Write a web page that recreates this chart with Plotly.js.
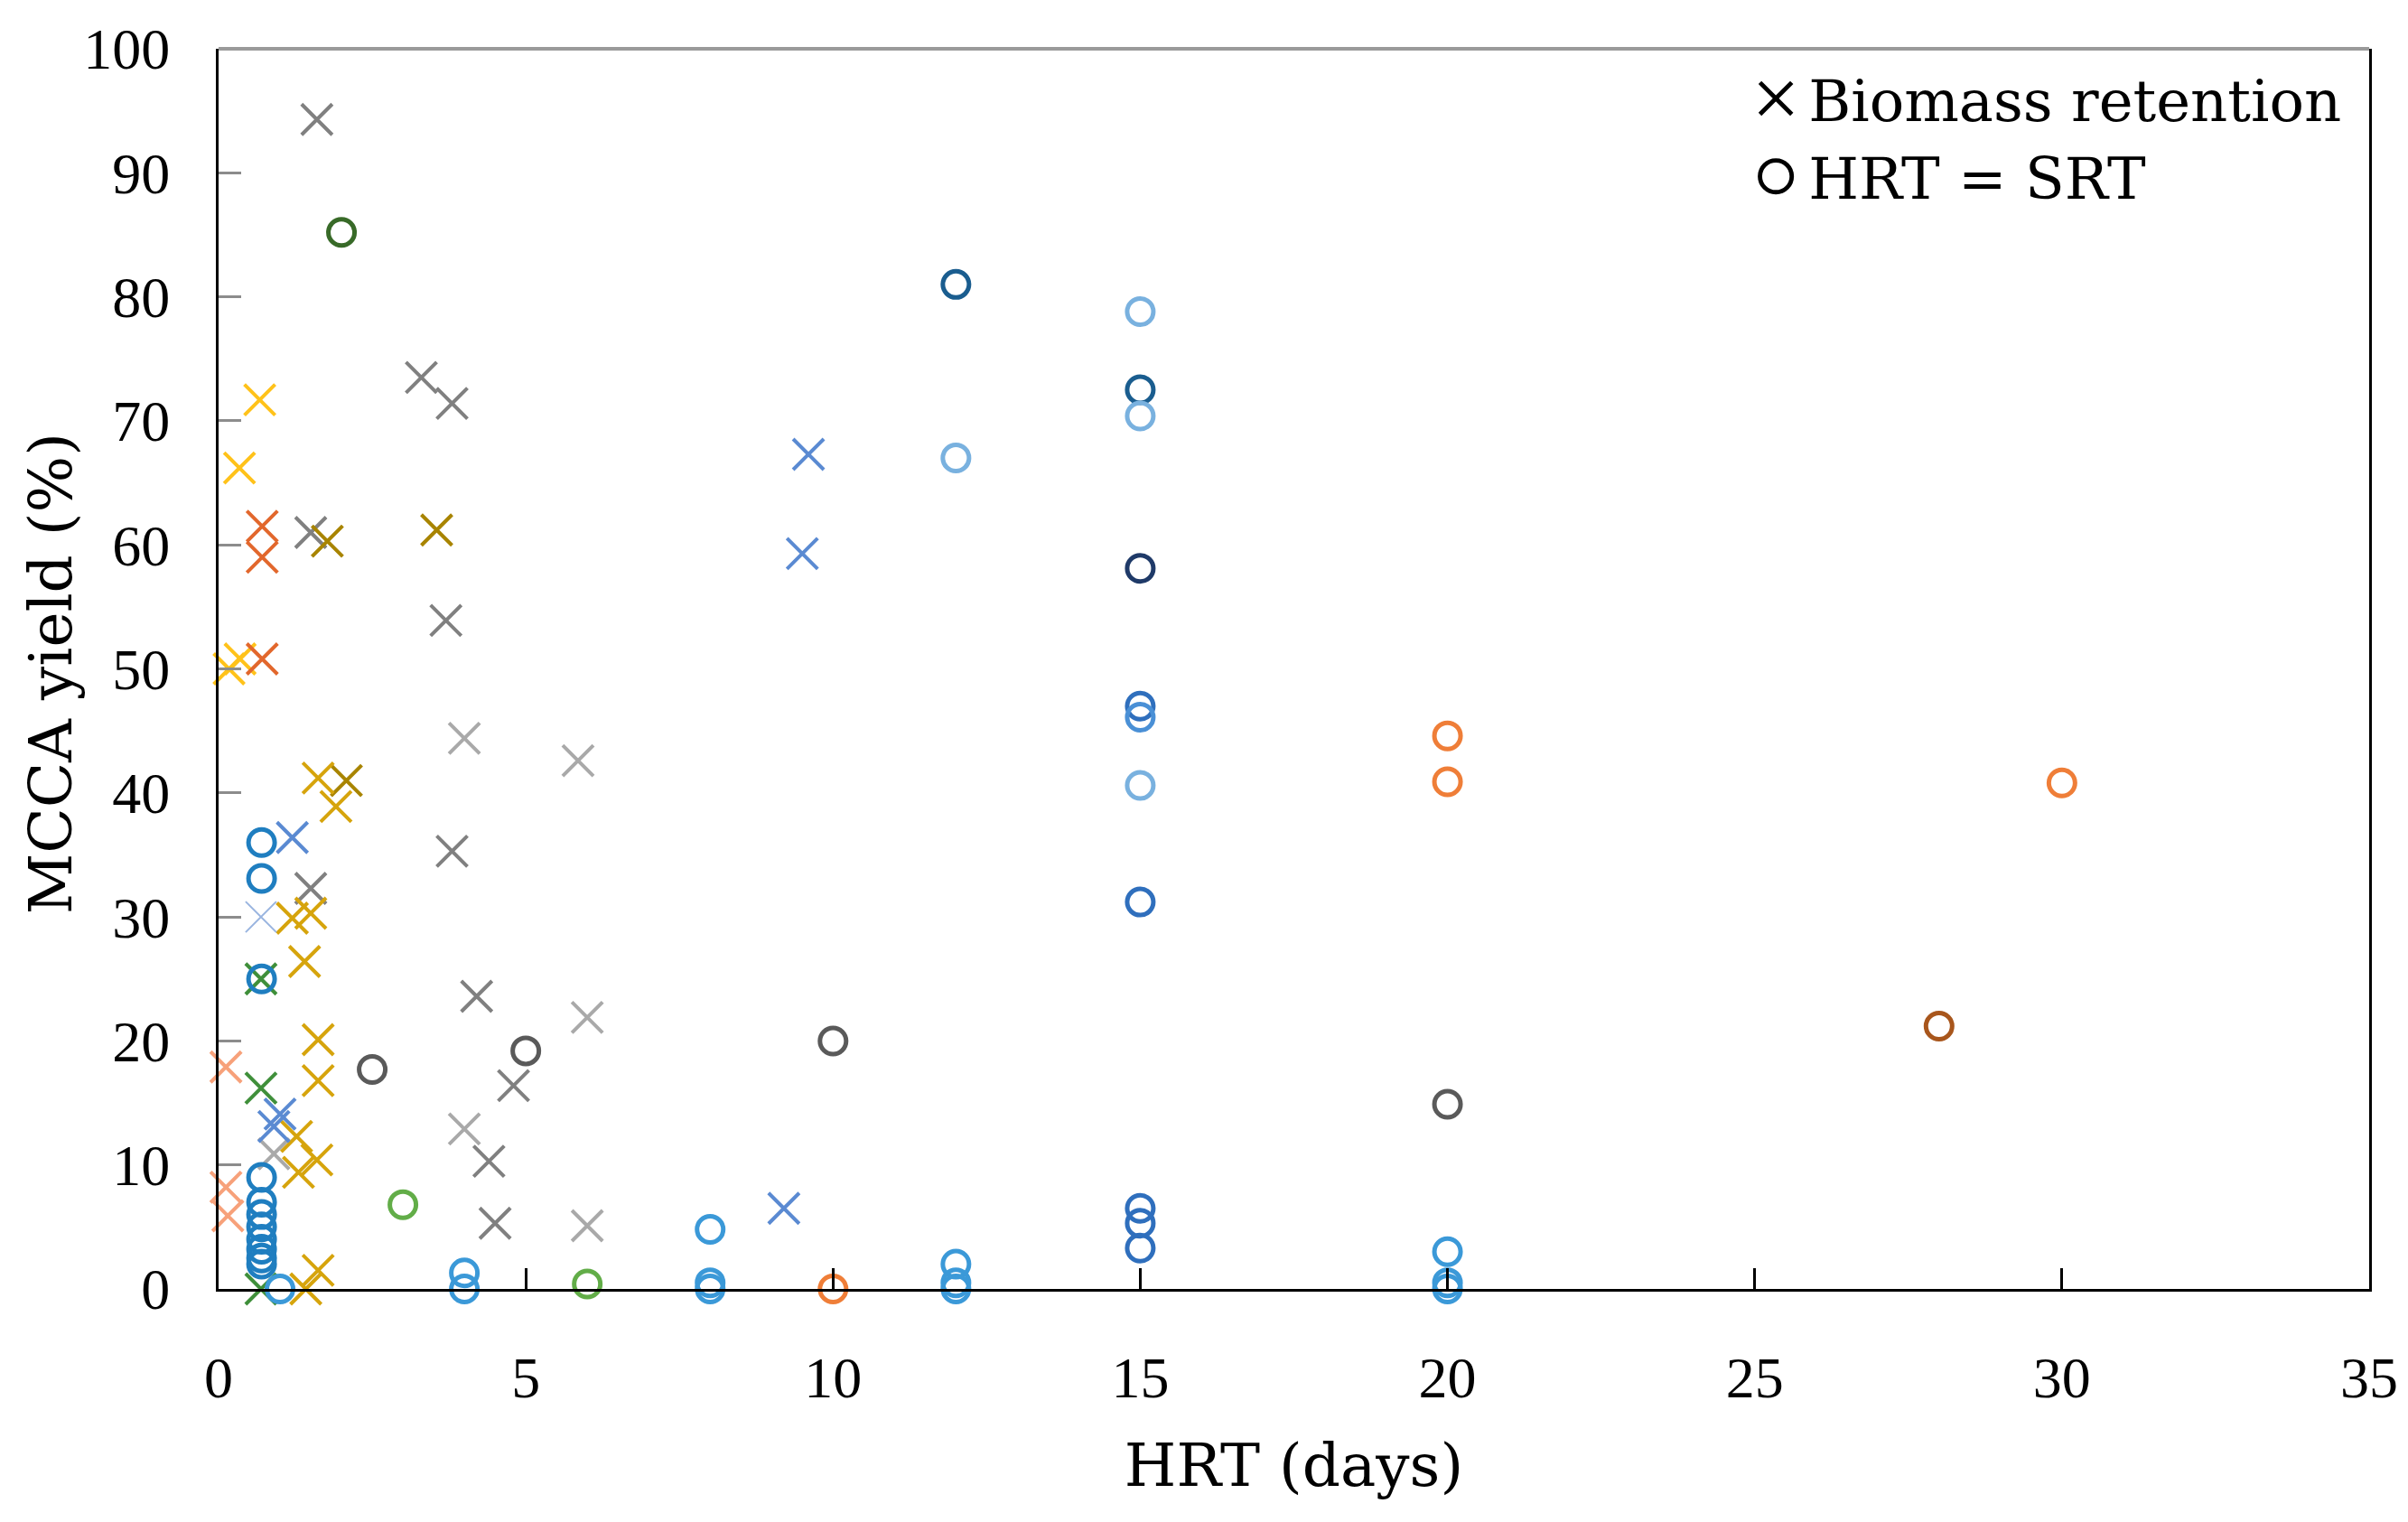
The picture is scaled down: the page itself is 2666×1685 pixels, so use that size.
<!DOCTYPE html>
<html>
<head>
<meta charset="utf-8">
<script src="https://cdn.plot.ly/plotly-3.0.1.min.js"></script>
<style>html,body{margin:0;padding:0;background:#fff;}#chart{width:2666px;height:1685px;}</style>
</head>
<body>
<div id="chart"></div>
<script>
// ---- Data (HRT in days, MCCA yield in %) ----
// Biomass retention (crosses)
const grayCrossX = [1.6, 3.3, 3.8, 1.5, 3.7, 3.8, 1.5, 4.2, 4.8, 4.4, 4.5];
const grayCrossY = [94.3, 73.5, 71.4, 61.0, 53.9, 35.3, 32.3, 23.6, 16.4, 10.3, 5.3];
const lightGrayCrossX = [4.0, 5.85, 4.0, 6.0, 6.0, 0.9];
const lightGrayCrossY = [44.4, 42.6, 12.9, 21.9, 5.1, 10.9];
const yellowCrossX = [0.67, 0.34, 0.17, 0.35];
const yellowCrossY = [71.7, 66.2, 50.0, 50.8];
const orangeCrossX = [0.71, 0.71, 0.71];
const orangeCrossY = [61.5, 59.0, 50.8];
const salmonCrossX = [0.12, 0.12, 0.15];
const salmonCrossY = [17.9, 8.2, 5.9];
const darkGoldCrossX = [1.77, 3.55, 2.08];
const darkGoldCrossY = [60.3, 61.2, 41.0];
const goldCrossX = [1.62, 1.91, 1.2, 1.5, 1.4, 1.62, 1.62, 1.27, 1.6, 1.3, 1.62, 1.42];
const goldCrossY = [41.2, 38.9, 29.9, 30.3, 26.4, 20.1, 16.8, 12.3, 10.4, 9.4, 1.5, 0];
const greenCrossX = [0.69, 0.69, 0.69];
const greenCrossY = [25.0, 16.2, 0];
const blueCrossX = [1.0, 0.9, 1.2, 9.6, 9.5, 9.2];
const blueCrossY = [14.1, 13.1, 36.4, 67.3, 59.3, 6.5];
const paleBlueCrossX = [0.69];
const paleBlueCrossY = [30.0];

// HRT = SRT (circles)
const darkGreenCircleX = [2.0];
const darkGreenCircleY = [85.2];
const greenCircleX = [3.0, 6.0];
const greenCircleY = [6.8, 0.4];
const blueCircleX = [0.7, 0.7, 0.7, 0.7, 0.7, 0.7, 0.7, 0.7, 0.7, 0.7, 0.7];
const blueCircleY = [36.0, 33.1, 25.0, 9.0, 7.0, 6.0, 5.0, 4.0, 3.2, 2.5, 2.0];
const skyBlueCircleX = [1.0, 4.0, 4.0, 8.0, 8.0, 8.0, 12.0, 12.0, 12.0, 20.0, 20.0, 20.0];
const skyBlueCircleY = [0, 1.3, 0, 4.8, 0.5, 0, 2.0, 0.5, 0, 3.0, 0.5, 0];
const navyCircleX = [12, 15];
const navyCircleY = [81.0, 72.5];
const darkNavyCircleX = [15];
const darkNavyCircleY = [58.1];
const lightBlueCircleX = [15, 12, 15, 15];
const lightBlueCircleY = [78.8, 67.0, 70.4, 40.6];
const mediumBlueCircleX = [15, 15, 15, 15, 15];
const mediumBlueCircleY = [47.0, 31.2, 6.5, 5.3, 3.3];
const midBlueCircleX = [15];
const midBlueCircleY = [46.1];
const orangeCircleX = [10, 20, 20, 30];
const orangeCircleY = [0, 44.6, 40.9, 40.8];
const brownCircleX = [28];
const brownCircleY = [21.2];
const darkGrayCircleX = [2.5, 5.0, 10, 20];
const darkGrayCircleY = [17.7, 19.2, 20.0, 14.9];

const xTicks = [0, 5, 10, 15, 20, 25, 30, 35];
const yTicks = [0, 10, 20, 30, 40, 50, 60, 70, 80, 90, 100];
const legendNames = ['Biomass retention', 'HRT = SRT'];

// ---- Styling ----
const FONT = 'Liberation Serif, Times New Roman, serif';
const TFONT = 'DejaVu Serif, serif';
function cross(x, y, color, w) {
  return {type: 'scatter', mode: 'markers', x: x, y: y, showlegend: false, cliponaxis: false, hoverinfo: 'x+y',
    marker: {symbol: 'x-thin-open', size: 34, color: color, line: {color: color, width: w || 4}}};
}
function circ(x, y, color) {
  return {type: 'scatter', mode: 'markers', x: x, y: y, showlegend: false, cliponaxis: false, hoverinfo: 'x+y',
    marker: {symbol: 'circle-open', size: 29, color: color, line: {color: color, width: 5}}};
}

const data = [
  cross(grayCrossX, grayCrossY, '#808080'),
  cross(lightGrayCrossX, lightGrayCrossY, '#a9a9a9'),
  cross(yellowCrossX, yellowCrossY, '#ffc21a'),
  cross(orangeCrossX, orangeCrossY, '#e2672c'),
  cross(salmonCrossX, salmonCrossY, '#f7a17a'),
  cross(darkGoldCrossX, darkGoldCrossY, '#a88400'),
  cross(goldCrossX, goldCrossY, '#d6a40c'),
  cross(greenCrossX, greenCrossY, '#3f8f3a'),
  cross(blueCrossX, blueCrossY, '#5a8ad2'),
  cross(paleBlueCrossX, paleBlueCrossY, '#9ab5e0', 2),
  circ(darkGreenCircleX, darkGreenCircleY, '#386a28'),
  circ(greenCircleX, greenCircleY, '#62ad48'),
  circ(blueCircleX, blueCircleY, '#1f7ec0'),
  circ(skyBlueCircleX, skyBlueCircleY, '#3b99d8'),
  circ(navyCircleX, navyCircleY, '#1a5d8f'),
  circ(darkNavyCircleX, darkNavyCircleY, '#1f3a68'),
  circ(lightBlueCircleX, lightBlueCircleY, '#79b1df'),
  circ(mediumBlueCircleX, mediumBlueCircleY, '#2f6fbd'),
  circ(midBlueCircleX, midBlueCircleY, '#4a90d6'),
  circ(orangeCircleX, orangeCircleY, '#ef7e38'),
  circ(brownCircleX, brownCircleY, '#a8561c'),
  circ(darkGrayCircleX, darkGrayCircleY, '#5a5a5a'),
  // legend entries (marker type keys)
  {type: 'scatter', mode: 'markers', x: [null], y: [null], name: legendNames[0], showlegend: true,
    marker: {symbol: 'x-thin-open', size: 16, color: '#000', line: {color: '#000', width: 2.2}}},
  {type: 'scatter', mode: 'markers', x: [null], y: [null], name: legendNames[1], showlegend: true,
    marker: {symbol: 'circle-open', size: 16, color: '#000', line: {color: '#000', width: 2.2}}}
];

const layout = {
  width: 2666, height: 1685,
  margin: {l: 242, r: 43, t: 54, b: 258},
  paper_bgcolor: '#fff', plot_bgcolor: '#fff',
  font: {family: FONT, color: '#000'},
  showlegend: true,
  legend: {x: 0.709, xanchor: 'left', y: 0.995, yanchor: 'top', bgcolor: 'rgba(0,0,0,0)',
    font: {family: TFONT, size: 64, color: '#000'}, tracegroupgap: 0, itemwidth: 62},
  xaxis: {
    range: [0, 35], tickvals: xTicks, ticktext: xTicks.map(String),
    ticks: 'inside', ticklen: 23, tickwidth: 3, tickcolor: '#000',
    showline: true, linecolor: '#000', linewidth: 3, showgrid: false, zeroline: false,
    tickfont: {family: FONT, size: 64, color: '#000'}, ticklabelstandoff: 40,
    title: {text: 'HRT (days)', font: {family: TFONT, size: 66, color: '#000'}, standoff: 40}
  },
  yaxis: {
    range: [0, 100], tickvals: yTicks, ticktext: yTicks.map(String),
    ticks: 'inside', ticklen: 25, tickwidth: 3, tickcolor: '#8c8c8c',
    showline: true, linecolor: '#000', linewidth: 3, mirror: true, showgrid: false, zeroline: false,
    tickfont: {family: FONT, size: 64, color: '#000'}, ticklabelstandoff: 38
  },
  annotations: [
    {text: 'MCCA yield (%)', textangle: -90, xref: 'paper', yref: 'paper', x: -0.0776, y: 0.496,
      xanchor: 'center', yanchor: 'middle', showarrow: false,
      font: {family: TFONT, size: 66, color: '#000'}}
  ],
  shapes: [
    {type: 'line', xref: 'paper', yref: 'paper', x0: 0, x1: 1, y0: 1, y1: 1, line: {color: '#9a9a9a', width: 4}}
  ]
};

Plotly.newPlot('chart', data, layout, {staticPlot: true, displayModeBar: false}).then(function () {
  // enlarge the legend key symbols (Plotly caps legend marker size)
  document.querySelectorAll('.legend .legendpoints path.scatterpts').forEach(function (p) {
    var t = p.getAttribute('transform') || '';
    p.setAttribute('transform', t + ' scale(2.2)');
  });
});
</script>
</body>
</html>
